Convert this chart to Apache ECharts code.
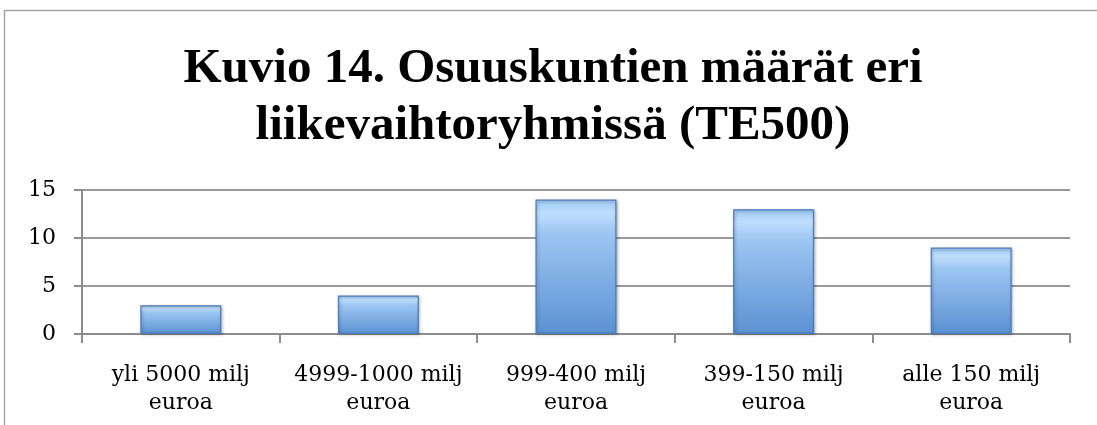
<!DOCTYPE html>
<html><head><meta charset="utf-8">
<script src="https://cdn.jsdelivr.net/npm/echarts@6/dist/echarts.min.js"></script>
<style>html,body{margin:0;padding:0;background:#fff}#c{width:1097px;height:425px}</style>
</head><body><div id="c"></div>
<script>
const titleText = "Kuvio 14. Osuuskuntien määrät eri\nliikevaihtoryhmissä (TE500)";
const categories = ["yli 5000 milj\neuroa", "4999-1000 milj\neuroa", "999-400 milj\neuroa", "399-150 milj\neuroa", "alle 150 milj\neuroa"];
const values = [3, 4, 14, 13, 9];
const yTicks = {min: 0, max: 15, interval: 5};

const chart = echarts.init(document.getElementById('c'), null, {renderer: 'canvas'});
chart.setOption({
  animation: false,
  backgroundColor: '#fff',
  graphic: [
    {type: 'polyline', shape: {points: [[4.5, 425], [4.5, 10.5], [1097, 10.5]]}, style: {stroke: '#a6a6a6', lineWidth: 1.5, fill: null}}
  ],
  title: {
    text: titleText, left: 548, top: 36, textAlign: 'center',
    textStyle: {fontFamily: 'Liberation Serif', fontWeight: 'bold', fontSize: 49, lineHeight: 57, color: '#000'}
  },
  grid: {left: 82, right: 27, top: 190, bottom: 91, containLabel: false},
  xAxis: {
    type: 'category', data: categories,
    axisLine: {lineStyle: {color: '#8c8c8c', width: 2}},
    axisTick: {show: true, length: 9, lineStyle: {color: '#8c8c8c', width: 2}},
    axisLabel: {interval: 0, fontFamily: 'DejaVu Serif', fontSize: 22, color: '#000', lineHeight: 28, margin: 27}
  },
  yAxis: {
    type: 'value', min: yTicks.min, max: yTicks.max, interval: yTicks.interval,
    axisLine: {show: true, lineStyle: {color: '#8c8c8c', width: 2}},
    axisTick: {show: true, length: 8, lineStyle: {color: '#8c8c8c', width: 2}},
    splitLine: {lineStyle: {color: '#9a9a9a', width: 2}},
    axisLabel: {fontFamily: 'DejaVu Serif', fontSize: 22, color: '#000', margin: 26}
  },
  series: [{
    type: 'bar', data: values, barWidth: '41%',
    itemStyle: {
      color: new echarts.graphic.LinearGradient(0, 0, 0, 1, [
        {offset: 0, color: '#9dc8f5'},
        {offset: 0.1, color: '#bfdefc'},
        {offset: 0.25, color: '#9cc6f2'},
        {offset: 1, color: '#5b91d3'}
      ]),
      borderColor: '#4a7cba', borderWidth: 1.2,
      shadowColor: 'rgba(0,0,0,0.3)', shadowBlur: 3, shadowOffsetX: 1, shadowOffsetY: 1
    }
  }]
});
</script></body></html>
